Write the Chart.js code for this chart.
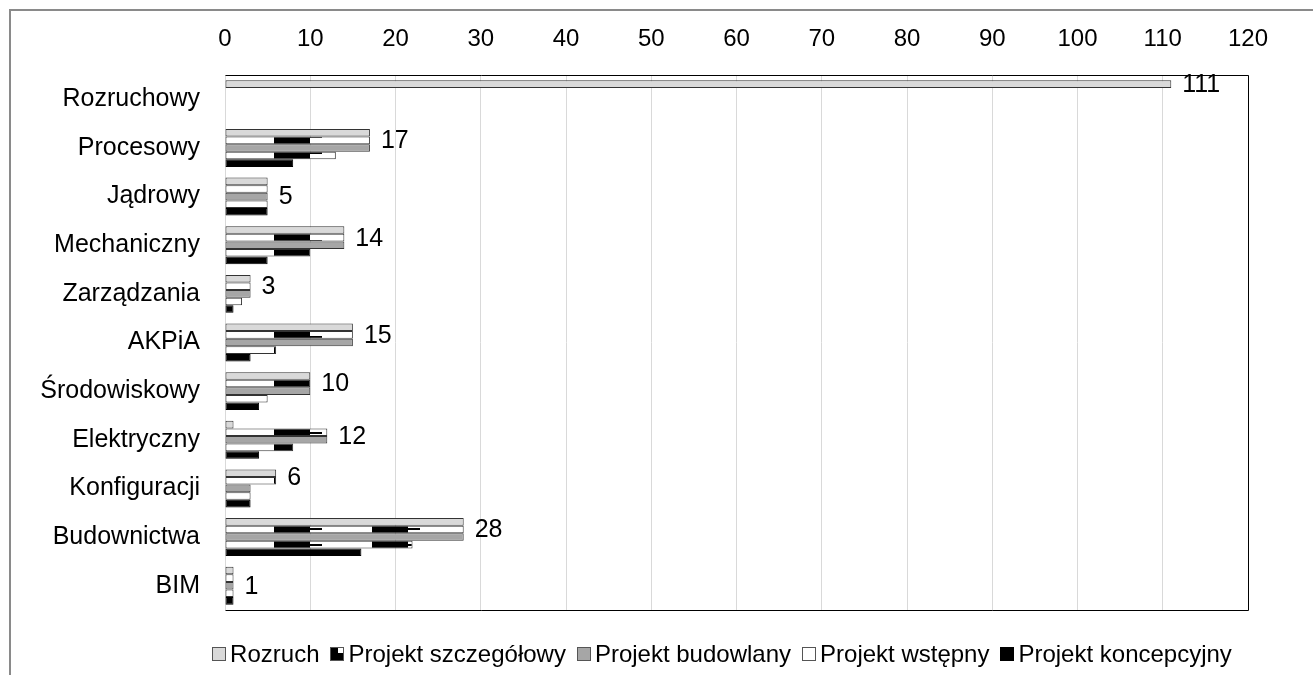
<html>
<head>
    <meta charset="utf-8">
    <title>Projekty</title>
    <style>
        body {
            margin: 0;
            background: #fff;
            font-family: "Liberation Sans", Arial, sans-serif;
            overflow: hidden;
        }
        #frame {
            position: absolute;
            left: 9px;
            top: 9px;
            width: 2000px;
            height: 2000px;
            border-top: 2px solid #8a8a8a;
            border-left: 2px solid #8a8a8a;
        }
        #chart {
            position: absolute;
            left: 0;
            top: 0;
        }
        #legend {
            position: absolute;
            left: 0;
            top: 640px;
            width: 1444px;
            display: flex;
            justify-content: center;
            gap: 11px;
            font-size: 24px;
            color: #000;
        }
        .item {
            display: flex;
            align-items: center;
        }
        .box {
            display: inline-block;
            width: 12px;
            height: 12px;
            margin-right: 4px;
            border: 1px solid #555;
        }
    </style>
</head>
<body>

<script src="https://cdn.jsdelivr.net/npm/chart.js@4.4.1/dist/chart.umd.min.js"></script>

<div id="frame"></div>
<canvas id="chart" width="1313" height="675"></canvas>
<div id="legend"></div>

<script>

    const categories = ['Rozruchowy', 'Procesowy', 'Jądrowy', 'Mechaniczny', 'Zarządzania', 'AKPiA',
        'Środowiskowy', 'Elektryczny', 'Konfiguracji', 'Budownictwa', 'BIM'];
    const series_names = ['Rozruch', 'Projekt szczegółowy', 'Projekt budowlany', 'Projekt wstępny', 'Projekt koncepcyjny'];

    const rozruch = [111, 17, 5, 14, 3, 15, 10, 1, 6, 28, 1];
    const szczegolowy = [0, 17, 5, 14, 3, 15, 10, 12, 6, 28, 1];
    const budowlany = [0, 17, 5, 14, 3, 15, 10, 12, 3, 28, 1];
    const wstepny = [0, 13, 5, 10, 2, 6, 5, 8, 3, 22, 1];
    const koncepcyjny = [0, 8, 5, 5, 1, 3, 4, 4, 3, 16, 1];

    const x_ticks = [0, 10, 20, 30, 40, 50, 60, 70, 80, 90, 100, 110, 120];

    // blocky black/white fill, as in the picture
    function make_pattern() {
        const c = document.createElement('canvas');
        c.width = 98;
        c.height = 8;
        const g = c.getContext('2d');
        g.fillStyle = '#fff';
        g.fillRect(0, 0, 98, 8);
        g.fillStyle = '#000';
        g.fillRect(78, 0, 20, 8);
        g.fillRect(0, 0, 16, 8);
        g.fillRect(0, 0, 28, 2);
        return g.createPattern(c, 'repeat');
    }
    const pattern = make_pattern();

    const all_series = [rozruch, szczegolowy, budowlany, wstepny, koncepcyjny];
    const fills = ['#d9d9d9', pattern, '#a6a6a6', pattern, '#000'];
    const legend_fills = ['#d9d9d9',
        'conic-gradient(from 0deg at 55% 45%, #fff 0 25%, #000 25% 100%)',
        '#a6a6a6', '#fff', '#000'];

    const value_labels = {
        id: 'value_labels',
        afterDatasetsDraw(chart) {
            const ctx = chart.ctx;
            const xs = chart.scales.x;
            ctx.save();
            ctx.font = '25px "Liberation Sans", Arial';
            ctx.fillStyle = '#000';
            ctx.textAlign = 'left';
            ctx.textBaseline = 'middle';
            for (let j = 0; j < categories.length; j++) {
                let max = 0;
                all_series.forEach(s => { if (s[j] > max) max = s[j]; });
                let ys = [];
                all_series.forEach((s, i) => {
                    if (s[j] === max) ys.push(chart.getDatasetMeta(i).data[j].y);
                });
                const y = ys.reduce((a, b) => a + b, 0) / ys.length;
                ctx.fillText(String(max), xs.getPixelForValue(max) + 11, y + 1);
            }
            ctx.restore();
        }
    };

    const plot_border = {
        id: 'plot_border',
        afterDraw(chart) {
            const a = chart.chartArea;
            const ctx = chart.ctx;
            ctx.save();
            ctx.strokeStyle = '#000';
            ctx.lineWidth = 1;
            ctx.beginPath();
            ctx.moveTo(Math.round(a.left) + 0.5, Math.round(a.top) + 0.5);
            ctx.lineTo(Math.round(a.right) + 0.5, Math.round(a.top) + 0.5);
            ctx.lineTo(Math.round(a.right) + 0.5, Math.round(a.bottom) + 0.5);
            ctx.lineTo(Math.round(a.left) + 0.5, Math.round(a.bottom) + 0.5);
            ctx.stroke();
            ctx.restore();
        }
    };

    const chart = new Chart(document.getElementById('chart'), {
        type: 'bar',
        data: {
            labels: categories,
            datasets: all_series.map((s, i) => ({
                label: series_names[i],
                data: s,
                backgroundColor: fills[i],
                borderColor: i === 4 ? '#000' : '#333',
                borderWidth: 1,
                borderSkipped: false,
                barPercentage: 1,
                categoryPercentage: 0.78
            }))
        },
        plugins: [value_labels, plot_border],
        options: {
            indexAxis: 'y',
            responsive: false,
            animation: false,
            layout: {
                padding: {left: 25, right: 65, top: 0, bottom: 65}
            },
            plugins: {
                legend: {display: false},
                tooltip: {enabled: false}
            },
            scales: {
                x: {
                    position: 'top',
                    min: 0,
                    max: 120,
                    afterBuildTicks: (axis) => { axis.ticks = x_ticks.map(v => ({value: v})); },
                    afterFit: (axis) => { axis.height = 75; },
                    grid: {color: '#d9d9d9', drawTicks: false},
                    border: {display: false},
                    ticks: {
                        padding: 21,
                        color: '#000',
                        font: {family: '"Liberation Sans", Arial', size: 24}
                    }
                },
                y: {
                    afterFit: (axis) => { axis.width = 200; },
                    grid: {display: false, drawTicks: false},
                    border: {display: false},
                    ticks: {
                        padding: 25,
                        color: '#000',
                        font: {family: '"Liberation Sans", Arial', size: 25}
                    }
                }
            }
        }
    });

    // legend as html, like the picture
    const legend = document.getElementById('legend');
    series_names.forEach((name, i) => {
        const item = document.createElement('span');
        item.className = 'item';
        item.innerHTML = `<span class="box" style="background: ${legend_fills[i]}; border-color: ${i === 4 ? '#000' : '#555'};"></span>${name}`;
        legend.appendChild(item);
    });

</script>

</body>
</html>
